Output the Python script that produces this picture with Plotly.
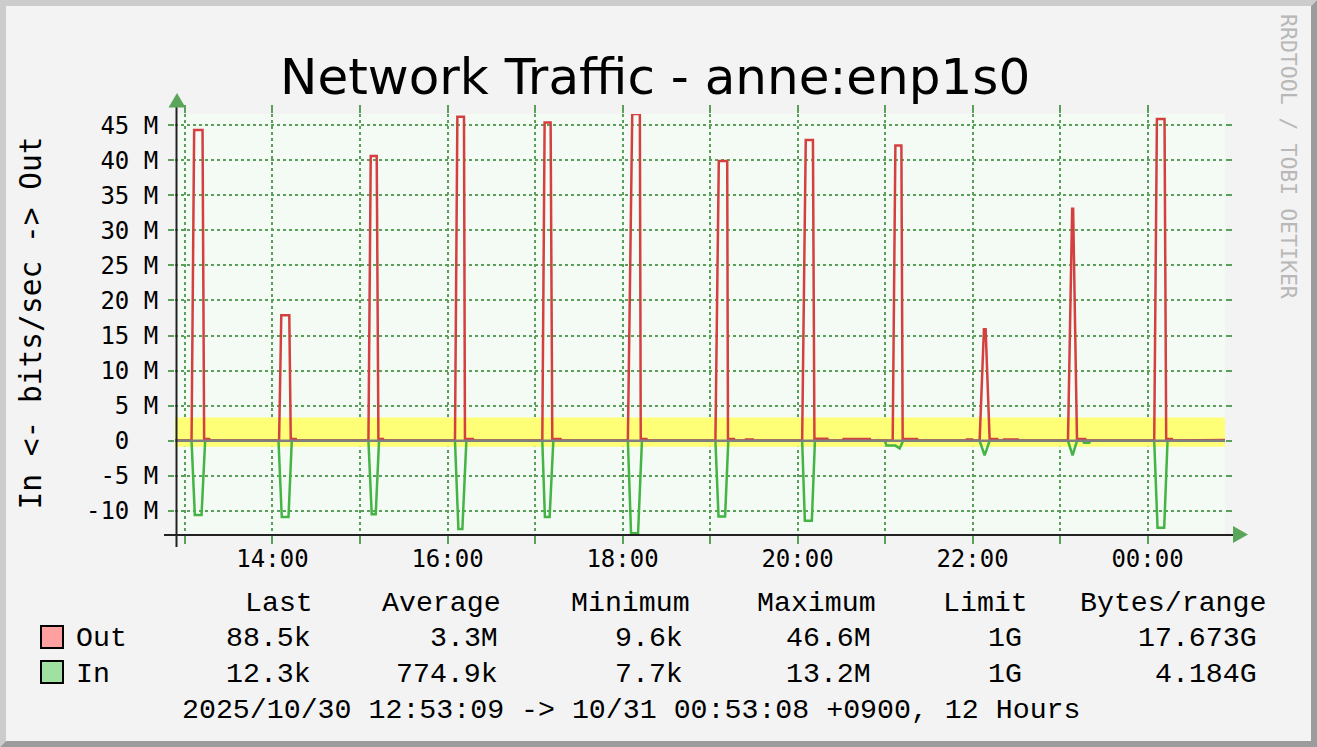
import plotly.graph_objects as go

# ---------------- data ----------------
title_text = "Network Traffic - anne:enp1s0"
y_title = "In <- bits/sec -> Out"
watermark = "RRDTOOL / TOBI OETIKER"

t_start = "2025-10-30 12:53:09"
t_end = "2025-10-31 00:53:08"

# Out traffic, Mbit/s
out_times = [
    "2025-10-30 12:53:09",
    "2025-10-30 13:04:30", "2025-10-30 13:06:17", "2025-10-30 13:12:02", "2025-10-30 13:13:08", "2025-10-30 13:16:33", "2025-10-30 13:17:10",
    "2025-10-30 14:04:31", "2025-10-30 14:06:02", "2025-10-30 14:11:31", "2025-10-30 14:12:32", "2025-10-30 14:15:58", "2025-10-30 14:16:30",
    "2025-10-30 15:05:47", "2025-10-30 15:07:22", "2025-10-30 15:11:28", "2025-10-30 15:12:38", "2025-10-30 15:15:47", "2025-10-30 15:16:20",
    "2025-10-30 16:05:08", "2025-10-30 16:06:46", "2025-10-30 16:11:18", "2025-10-30 16:11:59", "2025-10-30 16:17:28", "2025-10-30 16:18:00",
    "2025-10-30 17:05:01", "2025-10-30 17:06:36", "2025-10-30 17:10:43", "2025-10-30 17:11:52", "2025-10-30 17:17:34", "2025-10-30 17:18:00",
    "2025-10-30 18:03:41", "2025-10-30 18:06:41", "2025-10-30 18:11:54", "2025-10-30 18:12:31", "2025-10-30 18:16:29", "2025-10-30 18:17:00",
    "2025-10-30 19:03:43", "2025-10-30 19:06:02", "2025-10-30 19:11:48", "2025-10-30 19:12:20", "2025-10-30 19:16:31", "2025-10-30 19:17:00",
    "2025-10-30 19:24:00", "2025-10-30 19:24:30", "2025-10-30 19:29:30", "2025-10-30 19:30:00",
    "2025-10-30 20:03:11", "2025-10-30 20:05:40", "2025-10-30 20:10:35", "2025-10-30 20:11:36", "2025-10-30 20:20:30", "2025-10-30 20:21:00",
    "2025-10-30 20:31:00", "2025-10-30 20:31:30", "2025-10-30 20:49:40", "2025-10-30 20:50:10",
    "2025-10-30 21:05:16", "2025-10-30 21:07:07", "2025-10-30 21:11:14", "2025-10-30 21:12:07", "2025-10-30 21:22:00", "2025-10-30 21:22:30",
    "2025-10-30 21:55:30", "2025-10-30 21:56:00", "2025-10-30 21:59:50", "2025-10-30 22:00:20",
    "2025-10-30 22:04:53", "2025-10-30 22:07:50", "2025-10-30 22:09:00", "2025-10-30 22:11:44", "2025-10-30 22:17:01", "2025-10-30 22:17:30",
    "2025-10-30 22:21:00", "2025-10-30 22:21:30", "2025-10-30 22:31:10", "2025-10-30 22:31:40",
    "2025-10-30 23:05:28", "2025-10-30 23:08:20", "2025-10-30 23:09:00", "2025-10-30 23:11:38", "2025-10-30 23:17:20", "2025-10-30 23:17:50",
    "2025-10-31 00:04:36", "2025-10-31 00:06:27", "2025-10-31 00:11:40", "2025-10-31 00:12:49", "2025-10-31 00:16:44", "2025-10-31 00:17:10",
    "2025-10-31 00:53:08",
]
out_mbps = [
    0.03,
    0.03, 44.3, 44.3, 0.25, 0.25, 0.03,
    0.03, 17.9, 17.9, 0.25, 0.25, 0.03,
    0.03, 40.6, 40.6, 0.25, 0.25, 0.03,
    0.03, 46.2, 46.2, 0.25, 0.25, 0.03,
    0.03, 45.4, 45.4, 0.25, 0.25, 0.03,
    0.03, 46.6, 46.6, 0.25, 0.25, 0.03,
    0.03, 39.9, 39.9, 0.25, 0.25, 0.03,
    0.03, 0.18, 0.18, 0.03,
    0.03, 42.9, 42.9, 0.28, 0.28, 0.03,
    0.03, 0.24, 0.24, 0.03,
    0.03, 42.1, 42.1, 0.25, 0.25, 0.03,
    0.03, 0.18, 0.18, 0.03,
    0.03, 15.9, 15.9, 0.25, 0.25, 0.03,
    0.03, 0.18, 0.18, 0.03,
    0.03, 33.1, 33.1, 0.25, 0.25, 0.03,
    0.03, 45.9, 45.9, 0.25, 0.25, 0.03,
    0.0885,
]

# In traffic, Mbit/s (drawn below zero)
in_times = [
    "2025-10-30 12:53:09",
    "2025-10-30 13:04:30", "2025-10-30 13:06:45", "2025-10-30 13:11:21", "2025-10-30 13:13:49",
    "2025-10-30 14:04:07", "2025-10-30 14:06:22", "2025-10-30 14:10:58", "2025-10-30 14:13:14",
    "2025-10-30 15:05:47", "2025-10-30 15:08:03", "2025-10-30 15:10:47", "2025-10-30 15:13:03",
    "2025-10-30 16:05:08", "2025-10-30 16:07:28", "2025-10-30 16:10:12", "2025-10-30 16:12:56",
    "2025-10-30 17:05:01", "2025-10-30 17:06:48", "2025-10-30 17:10:01", "2025-10-30 17:12:34",
    "2025-10-30 18:03:41", "2025-10-30 18:05:52", "2025-10-30 18:10:40", "2025-10-30 18:13:20",
    "2025-10-30 19:03:43", "2025-10-30 19:05:50", "2025-10-30 19:10:21", "2025-10-30 19:12:32",
    "2025-10-30 20:03:11", "2025-10-30 20:05:02", "2025-10-30 20:09:50", "2025-10-30 20:11:57",
    "2025-10-30 20:59:56", "2025-10-30 21:01:00", "2025-10-30 21:07:07", "2025-10-30 21:10:04", "2025-10-30 21:12:24",
    "2025-10-30 22:04:53", "2025-10-30 22:08:19", "2025-10-30 22:11:44",
    "2025-10-30 23:05:28", "2025-10-30 23:08:37", "2025-10-30 23:11:38",
    "2025-10-30 23:15:30", "2025-10-30 23:16:30", "2025-10-30 23:20:00", "2025-10-30 23:21:00",
    "2025-10-31 00:04:36", "2025-10-31 00:06:52", "2025-10-31 00:11:27", "2025-10-31 00:13:43",
    "2025-10-31 00:53:08",
]
in_mbps = [
    0.02,
    0.02, 10.6, 10.6, 0.02,
    0.02, 10.9, 10.9, 0.02,
    0.02, 10.5, 10.5, 0.02,
    0.02, 12.6, 12.6, 0.02,
    0.02, 10.9, 10.9, 0.02,
    0.02, 13.2, 13.2, 0.02,
    0.02, 10.8, 10.8, 0.02,
    0.02, 11.4, 11.4, 0.02,
    0.02, 0.7, 0.7, 1.1, 0.02,
    0.02, 2.1, 0.02,
    0.02, 2.1, 0.02,
    0.02, 0.3, 0.3, 0.02,
    0.02, 12.4, 12.4, 0.02,
    0.0123,
]

band_top_mbps = 3.3      # yellow band upper edge
band_bottom_mbps = 0.85  # yellow band lower edge (below zero)

y_range_mbps = [-13.45, 46.6]
y_tick_vals_m = [-10, -5, 0, 5, 10, 15, 20, 25, 30, 35, 40, 45]
y_tick_labels = ["-10 M", "-5 M", "0\u00a0\u00a0", "5 M", "10 M", "15 M", "20 M",
                 "25 M", "30 M", "35 M", "40 M", "45 M"]
x_tick_times = ["2025-10-30 13:00", "2025-10-30 14:00", "2025-10-30 15:00", "2025-10-30 16:00",
                "2025-10-30 17:00", "2025-10-30 18:00", "2025-10-30 19:00", "2025-10-30 20:00",
                "2025-10-30 21:00", "2025-10-30 22:00", "2025-10-30 23:00", "2025-10-31 00:00"]
x_tick_labels = ["", "14:00", "", "16:00", "", "18:00", "", "20:00", "", "22:00", "", "00:00"]

legend_headers = ["Last", "Average", "Minimum", "Maximum", "Limit", "Bytes/range"]
legend_series = ["Out", "In"]
out_stats = ["88.5k", "3.3M", "9.6k", "46.6M", "1G", "17.673G"]
in_stats = ["12.3k", "774.9k", "7.7k", "13.2M", "1G", "4.184G"]
footer_text = "2025/10/30 12:53:09 -> 10/31 00:53:08 +0900, 12 Hours"

# ---------------- styling / layout ----------------
W, H = 1317, 747
PL, PR, PT, PB = 175, 1225, 114, 535

BG = "#f3f3f3"
CANVAS = "#f4faf4"
GRID = "#5aa05a"
ARROW = "#5aa55a"
RED = "#d44040"
GREEN = "#44b444"
YELLOW = "#ffff77"
ZERO = "#7f7f7f"
MONO = "DejaVu Sans Mono"
LEG = "Liberation Mono"


def ppx(x):
    return (x - PL) / (PR - PL)


def ppy(y):
    return (PB - y) / (PB - PT)


M = 1e6
fig = go.Figure()

fig.add_trace(go.Scatter(x=[t_start, t_end], y=[-band_bottom_mbps * M] * 2, mode="lines",
                         line=dict(width=0, color=YELLOW), hoverinfo="skip", showlegend=False))
fig.add_trace(go.Scatter(x=[t_start, t_end], y=[band_top_mbps * M] * 2, mode="lines",
                         line=dict(width=0, color=YELLOW), fill="tonexty", fillcolor=YELLOW,
                         hoverinfo="skip", showlegend=False))
fig.add_trace(go.Scatter(x=in_times, y=[-v * M for v in in_mbps], mode="lines",
                         line=dict(width=2.5, color=GREEN), hoverinfo="skip", showlegend=False))
fig.add_trace(go.Scatter(x=out_times, y=[v * M for v in out_mbps], mode="lines",
                         line=dict(width=2.5, color=RED), hoverinfo="skip", showlegend=False))
fig.add_trace(go.Scatter(x=[t_start, t_end], y=[0, 0], mode="lines",
                         line=dict(width=2.5, color=ZERO), hoverinfo="skip", showlegend=False))

fig.update_layout(
    width=W, height=H,
    margin=dict(l=PL, r=W - PR, t=PT, b=H - PB, autoexpand=False),
    paper_bgcolor=BG, plot_bgcolor=CANVAS,
    showlegend=False,
    xaxis=dict(
        type="date", range=[t_start, t_end],
        tickmode="array", tickvals=x_tick_times, ticktext=x_tick_labels,
        showgrid=True, gridcolor=GRID, griddash="3px,3px", gridwidth=1.5,
        ticks="outside", ticklen=8, tickwidth=1.5, tickcolor=GRID, mirror="ticks",
        showline=False, zeroline=False, ticklabelstandoff=-6,
        tickfont=dict(family=MONO, size=24, color="#000000"),
    ),
    yaxis=dict(
        range=[y_range_mbps[0] * M, y_range_mbps[1] * M],
        tickmode="array", tickvals=[v * M for v in y_tick_vals_m], ticktext=y_tick_labels,
        showgrid=True, gridcolor=GRID, griddash="3px,3px", gridwidth=1.5,
        ticks="outside", ticklen=6, tickwidth=1.5, tickcolor=GRID, mirror="ticks",
        showline=False, zeroline=False, ticklabelstandoff=5,
        tickfont=dict(family=MONO, size=24, color="#000000"),
    ),
)

shapes = []
# frame
shapes.append(dict(type="path", xref="paper", yref="paper", layer="below",
                   path=f"M {ppx(0)} {ppy(0)} L {ppx(W)} {ppy(0)} L {ppx(W-6)} {ppy(6)} L {ppx(6)} {ppy(6)} "
                        f"L {ppx(6)} {ppy(H-6)} L {ppx(0)} {ppy(H)} Z",
                   fillcolor="#cccccc", line=dict(width=0)))
shapes.append(dict(type="path", xref="paper", yref="paper", layer="below",
                   path=f"M {ppx(W)} {ppy(0)} L {ppx(W)} {ppy(H)} L {ppx(0)} {ppy(H)} L {ppx(6)} {ppy(H-6)} "
                        f"L {ppx(W-6)} {ppy(H-6)} L {ppx(W-6)} {ppy(6)} Z",
                   fillcolor="#9c9c9c", line=dict(width=0)))
# axis lines
shapes.append(dict(type="line", xref="paper", yref="paper", x0=ppx(164), x1=ppx(1234), y0=ppy(535), y1=ppy(535),
                   line=dict(color="#222222", width=2)))
shapes.append(dict(type="line", xref="paper", yref="paper", x0=ppx(176.5), x1=ppx(176.5), y0=ppy(106), y1=ppy(547),
                   line=dict(color="#222222", width=2)))
# arrows
shapes.append(dict(type="path", xref="paper", yref="paper",
                   path=f"M {ppx(168.5)} {ppy(107.5)} L {ppx(185.5)} {ppy(107.5)} L {ppx(177)} {ppy(93)} Z",
                   fillcolor=ARROW, line=dict(width=0)))
shapes.append(dict(type="path", xref="paper", yref="paper",
                   path=f"M {ppx(1233)} {ppy(526)} L {ppx(1233)} {ppy(543)} L {ppx(1248)} {ppy(534.5)} Z",
                   fillcolor=ARROW, line=dict(width=0)))
# legend swatches
shapes.append(dict(type="rect", xref="paper", yref="paper", x0=ppx(41), x1=ppx(63), y0=ppy(626), y1=ppy(648),
                   fillcolor="#ffa0a0", line=dict(color="#000000", width=2)))
shapes.append(dict(type="rect", xref="paper", yref="paper", x0=ppx(41), x1=ppx(63), y0=ppy(661), y1=ppy(683),
                   fillcolor="#a0e0a0", line=dict(color="#000000", width=2)))
fig.update_layout(shapes=shapes)

ann = []
ann.append(dict(text=title_text, x=ppx(655), y=ppy(76.5), xref="paper", yref="paper",
                xanchor="center", yanchor="middle", showarrow=False,
                font=dict(family="DejaVu Sans", size=50, color="#000000")))
ann.append(dict(text=y_title, x=ppx(30), y=ppy(323.5), xref="paper", yref="paper", textangle=-90,
                xanchor="center", yanchor="middle", showarrow=False,
                font=dict(family=MONO, size=29.5, color="#000000")))
ann.append(dict(text=watermark, x=ppx(1289), y=ppy(156), xref="paper", yref="paper", textangle=90,
                xanchor="center", yanchor="middle", showarrow=False,
                font=dict(family=MONO, size=21.5, color="#b8b8b8")))

hdr_right = [315, 503, 691.5, 878.4, 1030, 1268]
val_right = [313, 500, 685, 873, 1024, 1259]
LFS = 28.25
for txt, xr in zip(legend_headers, hdr_right):
    ann.append(dict(text=txt, x=ppx(xr), y=ppy(602.5), xref="paper", yref="paper",
                    xanchor="right", yanchor="middle", showarrow=False,
                    font=dict(family=LEG, size=LFS, color="#000000")))
for row_y, name, stats in [(638, legend_series[0], out_stats), (673.5, legend_series[1], in_stats)]:
    ann.append(dict(text=name, x=ppx(74), y=ppy(row_y), xref="paper", yref="paper",
                    xanchor="left", yanchor="middle", showarrow=False,
                    font=dict(family=LEG, size=LFS, color="#000000")))
    for txt, xr in zip(stats, val_right):
        ann.append(dict(text=txt, x=ppx(xr), y=ppy(row_y), xref="paper", yref="paper",
                        xanchor="right", yanchor="middle", showarrow=False,
                        font=dict(family=LEG, size=LFS, color="#000000")))
ann.append(dict(text=footer_text, x=ppx(180), y=ppy(709.5), xref="paper", yref="paper",
                xanchor="left", yanchor="middle", showarrow=False,
                font=dict(family=LEG, size=LFS, color="#000000")))
fig.update_layout(annotations=ann)

fig.write_html("out.html", config={"displayModeBar": False},
               post_script="document.body.style.margin='0';document.body.style.overflow='hidden';")
